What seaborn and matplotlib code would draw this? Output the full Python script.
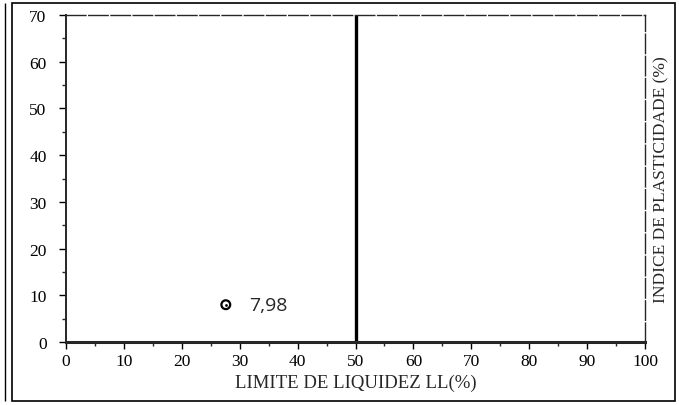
import matplotlib
matplotlib.use("Agg")
import matplotlib.pyplot as plt
import seaborn as sns
import pandas as pd
from matplotlib.patches import Rectangle

# ---- data ----
ll_values = [27.6]          # Limite de liquidez (%)
ip_values = [7.98]          # Índice de plasticidade (%)
point_labels = ["7,98"]
divider_x = [50, 50]        # LL = 50 % divisor
divider_y = [0, 70]
x_ticks = [0, 10, 20, 30, 40, 50, 60, 70, 80, 90, 100]
y_ticks = [0, 10, 20, 30, 40, 50, 60, 70]
x_label = "LIMITE DE LIQUIDEZ LL(%)"
y_label = "INDICE DE PLASTICIDADE (%)"

sns.set_style("ticks")
plt.rcParams['font.family'] = ['Liberation Serif', 'DejaVu Serif']

df = pd.DataFrame({"LL": ll_values, "IP": ip_values, "lab": point_labels})

fig = plt.figure(figsize=(6.79, 4.06), dpi=100)
W, H = 679, 406
l, r, t, b = 66, 645, 16, 343
ax = fig.add_axes([l / W, (H - b) / H, (r - l) / W, (b - t) / H])

ax.plot(divider_x, divider_y, color="black", lw=2.4, solid_capstyle="butt")
sns.scatterplot(data=df, x="LL", y="IP", ax=ax, s=40, marker="o",
                facecolor="none", edgecolor="black", linewidth=1.6, zorder=5)
sns.scatterplot(data=df, x="LL", y="IP", ax=ax, s=4, color="black",
                linewidth=0, zorder=6)
for _, row in df.iterrows():
    ax.text(row.LL + 4, row.IP, row.lab, fontsize=14, va="center", ha="left",
            family=["Open Sans", "DejaVu Sans"])

ax.set_xlim(0, 100)
ax.set_ylim(0, 70)
ax.set_xticks(x_ticks)
ax.set_yticks(y_ticks)
ax.set_xticks(range(5, 100, 10), minor=True)
ax.set_yticks(range(5, 70, 10), minor=True)
ax.tick_params(axis="both", which="major", direction="out", length=5, width=1,
               labelsize=12.5, colors="black")
ax.tick_params(axis="both", which="minor", direction="out", length=3, width=1)
ax.tick_params(axis="x", pad=3)
ax.tick_params(axis="y", pad=9)

for side in ["left", "bottom"]:
    ax.spines[side].set_linewidth(1.4)
for side in ["top", "right"]:
    ax.spines[side].set_visible(True)
    ax.spines[side].set_linewidth(1.0)
    ax.spines[side].set_linestyle((0, (14, 2)))
ax.spines["bottom"].set_linewidth(2.2)

ax.set_xlabel(x_label, fontsize=13.5, labelpad=3)
ax.set_ylabel(y_label, fontsize=12.5, labelpad=6)
ax.yaxis.set_label_position("right")
ax.grid(False)

# outer frame of the scanned sheet
frame = Rectangle((12 / W, 4 / H), (W - 16) / W, (H - 8) / H,
                  transform=fig.transFigure, fill=False, lw=1.2, color="black")
fig.add_artist(frame)
frame2 = Rectangle((5 / W, 4 / H), 0, (H - 8) / H, transform=fig.transFigure,
                   fill=False, lw=1.0, color="black")
fig.add_artist(frame2)

fig.savefig("out.png", dpi=100)
